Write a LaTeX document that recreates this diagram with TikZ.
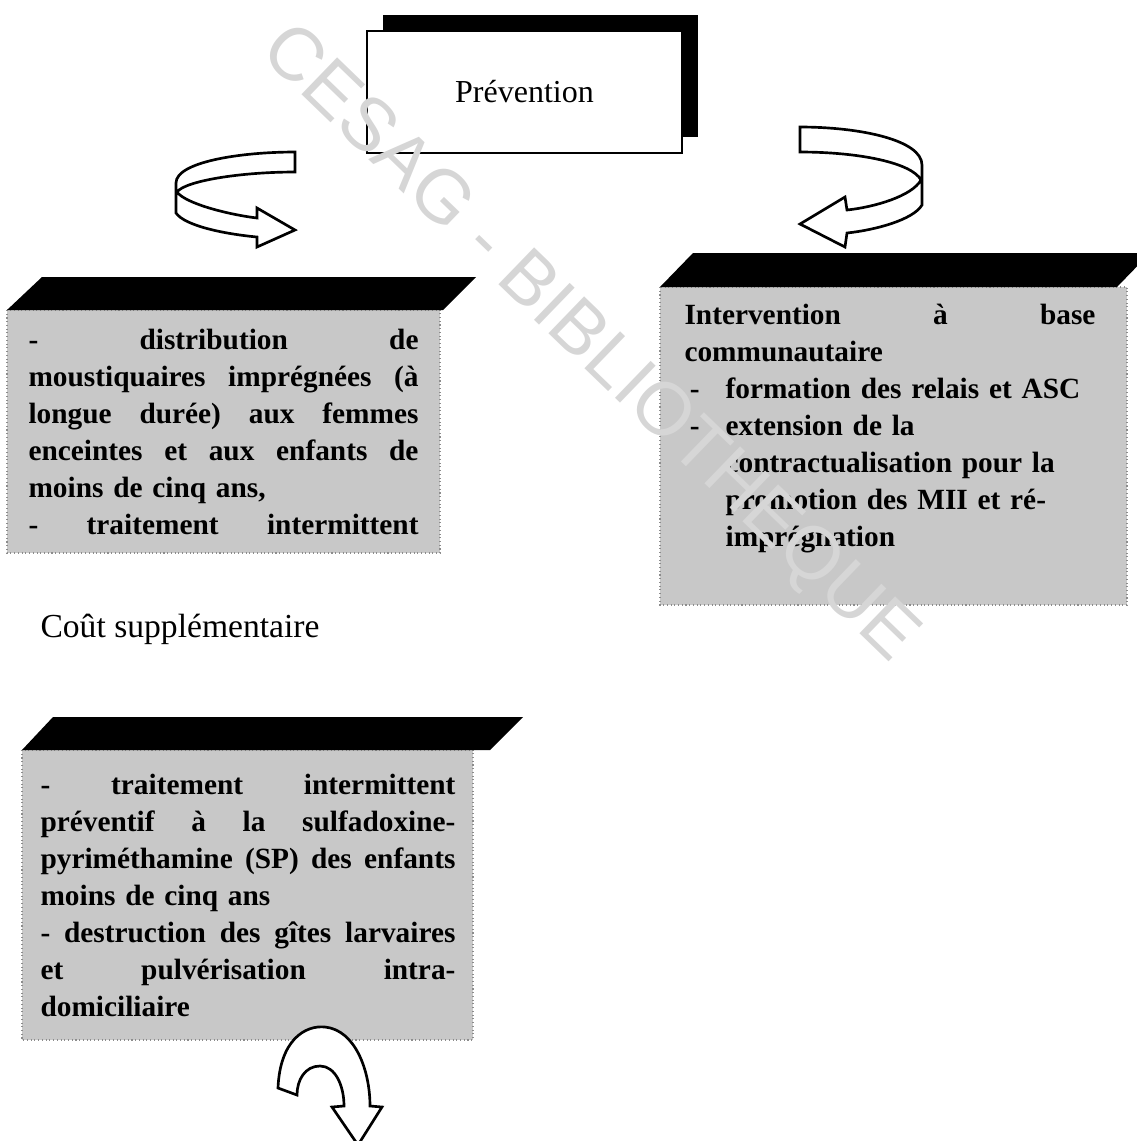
\documentclass[tikz,border=0pt]{standalone}
\usepackage{fontspec}
\setmainfont{Liberation Serif}
\newfontfamily\wmfont{Liberation Sans}
\usetikzlibrary{shadows}
\definecolor{speckle}{RGB}{200,200,200}
\definecolor{watermark}{RGB}{214,214,214}
\newcommand{\jline}[1]{\hbox to \hsize{\spaceskip=0.25em plus 1fill\relax #1}}
\newcommand{\itemdash}{\makebox[15.4pt][l]{\hspace{2pt}-}}
\newcommand{\itemgap}{\hspace*{15.4pt}}

\begin{document}
\begin{tikzpicture}[x=0.375pt,y=-0.375pt,
  prevbox/.style={draw,fill=white,line width=0.6pt,minimum width=118.1pt,minimum height=45.75pt,inner sep=0pt,
    font=\fontsize{12}{14}\selectfont,drop shadow={shadow xshift=6pt,shadow yshift=6pt,fill=black,opacity=1}},
  band/.style={fill=black},
  body/.style={fill=speckle,draw=black!45,densely dotted,line width=0.4pt},
  boxtext/.style={anchor=base west,inner sep=0pt,align=left,font=\fontsize{11}{13.875}\selectfont\bfseries},
  turn/.style={draw,fill=white,line width=1pt,line join=miter}]
\useasboundingbox (0,0) rectangle (1137,1141);

% top box
\node[prevbox] (prev) at (524.5,92) {\raisebox{-3pt}{Prévention}};

% curved arrows
\draw[turn] (295,152) .. controls (240,152) and (176,162) .. (176,183) -- (176,213)
  .. controls (185,226) and (225,234) .. (257,237) -- (257,247) -- (295,230) -- (257,208) -- (257,218)
  .. controls (225,214) and (185,203) .. (177,192) .. controls (185,181) and (240,172) .. (295,172) -- cycle;
\draw[turn] (800,127) .. controls (860,127) and (922,140) .. (922,165) -- (922,205)
  .. controls (913,220) and (875,230) .. (847,233) -- (845,247) -- (800,224) -- (845,197) -- (847,210)
  .. controls (875,207) and (912,196) .. (921,180) .. controls (912,163) and (860,152) .. (800,152) -- cycle;

% left box
\draw[body] (7,310) rectangle (440,553);
\fill[band] (7,310) -- (443,310) -- (476,277) -- (42,277) -- cycle;
\node[boxtext,text width=146.25pt] (mii) at (28,349)
  {\jline{- distribution de}
   \jline{moustiquaires imprégnées (à}
   \jline{longue durée) aux femmes}
   \jline{enceintes et aux enfants de}
   moins de cinq ans,\\
   \jline{- traitement intermittent}};

% right box
\draw[body] (660,287) rectangle (1127,605);
\fill[band] (660,287) -- (1117,287) -- (1150,253) -- (693,253) -- cycle;
\node[boxtext,text width=154.1pt] (ibc) at (684,324)
  {\jline{Intervention à base}
   communautaire\\
   \itemdash formation des relais et ASC\\
   \itemdash extension de la\\
   \itemgap contractualisation pour la\\
   \itemgap promotion des MII et ré-\\
   \itemgap imprégnation};

\node[anchor=base west,inner sep=0pt,font=\fontsize{12.6}{15}\selectfont] (cout) at (40,637) {Coût supplémentaire};

% bottom box
\draw[body] (22,750) rectangle (473,1040);
\fill[band] (22,750) -- (490,750) -- (523,717) -- (53,717) -- cycle;
\node[boxtext,text width=155.6pt] (tpi) at (40,794)
  {\jline{- traitement intermittent}
   \jline{préventif à la sulfadoxine-}
   \jline{pyriméthamine (SP) des enfants}
   moins de cinq ans\\
   \jline{- destruction des gîtes larvaires}
   \jline{et pulvérisation intra-}
   domiciliaire};

\draw[turn] (278,1088) .. controls (280,1040) and (305,1025) .. (325,1027)
  .. controls (355,1030) and (370,1070) .. (370,1106) -- (382,1107) -- (358,1145) -- (332,1107) -- (344,1106)
  .. controls (344,1085) and (335,1066) .. (320,1066) .. controls (305,1066) and (297,1080) .. (297,1095) -- cycle;

% watermark
\node[rotate=-44,text=watermark,font=\wmfont\fontsize{28}{28}\selectfont] (wm) at (588,345) {CESAG - BIBLIOTHEQUE};
\end{tikzpicture}
\end{document}
